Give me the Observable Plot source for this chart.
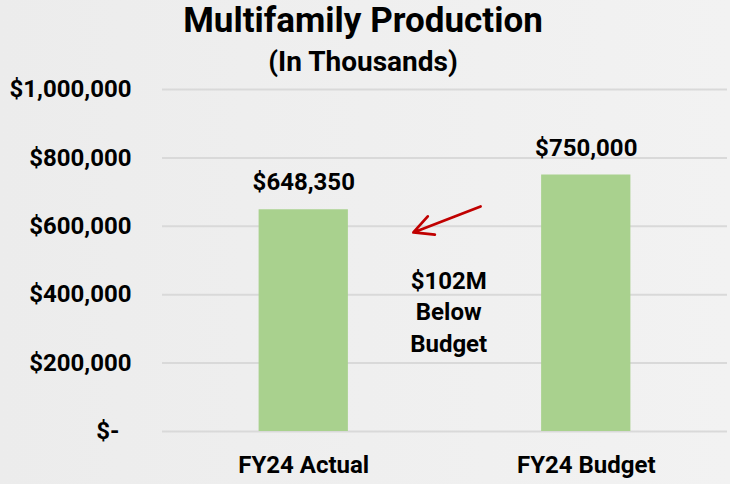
<!DOCTYPE html>
<html>
<head>
<meta charset="utf-8">
<script src="https://cdn.jsdelivr.net/npm/d3@7"></script>
<script src="https://cdn.jsdelivr.net/npm/@observablehq/plot@0.6"></script>
<style>
  html, body { margin: 0; padding: 0; }
  body {
    width: 730px; height: 484px; overflow: hidden;
    background: linear-gradient(to right, #ececec, #f2f2f2);
    font-family: Roboto, "Open Sans", sans-serif;
    font-weight: bold; color: #000;
  }
  #title { text-align: center; font-size: 35px; line-height: 42px; height: 42px; margin-left: -4px; }
  #subtitle { text-align: center; font-size: 28px; line-height: 40px; height: 41px; margin-left: -4px; }
  #chart svg { display: block; overflow: visible; }
</style>
</head>
<body>
<div id="title">Multifamily Production</div>
<div id="subtitle">(In Thousands)</div>
<div id="chart"></div>
<script>
// Data (values in thousands of dollars)
const categories = ["FY24 Actual", "FY24 Budget"];
const values = [648350, 750000];
const yTicks = [0, 200000, 400000, 600000, 800000, 1000000];

// Annotation: positions in data units (x: 0 = first bar, 1 = second bar)
const arrowTail = { x: 0.626, y: 658000 };
const arrowTip = { x: 0.388, y: 582000 };
const noteAt = { x: 0.513, y: 355000 };

const table = categories.map((c, i) => ({ category: c, index: i, value: values[i] }));
const fmt = d3.format(",");
const money = v => "$" + fmt(v);
const gapM = Math.round((values[1] - values[0]) / 1000);
const noteText = `$${gapM}M\nBelow\nBudget`;

const halfBar = 0.158;
const FONT = 'Roboto, "Open Sans", sans-serif';

const plot = Plot.plot({
  width: 730,
  height: 401,
  marginTop: 6,
  marginBottom: 53,
  marginLeft: 162,
  marginRight: 3,
  style: {
    fontFamily: FONT,
    fontSize: "24px",
    fontWeight: "700",
    background: "transparent",
    color: "#000",
    overflow: "visible"
  },
  x: { type: "linear", domain: [-0.5, 1.5] },
  y: { domain: [0, 1000000] },
  marks: [
    Plot.ruleY(yTicks, { stroke: "#d9d9d9", strokeWidth: 2 }),
    Plot.rectY(table, {
      x1: d => d.index - halfBar,
      x2: d => d.index + halfBar,
      y1: 0,
      y2: "value",
      fill: "#a9d18e"
    }),
    Plot.text(table, {
      x: "index",
      y: "value",
      text: d => money(d.value),
      dy: -27,
      fill: "#000",
      fontSize: 24,
      fontWeight: "bold"
    }),
    Plot.axisY({
      ticks: yTicks,
      tickFormat: v => v === 0 ? "$-\u00a0\u00a0" : money(v),
      tickSize: 0,
      tickPadding: 31,
      label: null,
      fontSize: 24,
      fontWeight: "bold"
    }),
    Plot.axisX({
      ticks: categories.map((c, i) => i),
      tickFormat: i => categories[i],
      tickSize: 0,
      tickPadding: 24,
      label: null,
      fontSize: 24,
      fontWeight: "bold"
    }),
    Plot.arrow([{ x1: arrowTail.x, y1: arrowTail.y, x2: arrowTip.x, y2: arrowTip.y }], {
      x1: "x1", y1: "y1", x2: "x2", y2: "y2",
      stroke: "#c00000",
      strokeWidth: 2.7,
      headLength: 12,
      headAngle: 54
    }),
    Plot.text([noteAt], {
      x: "x",
      y: "y",
      text: () => noteText,
      lineHeight: 1.31,
      fill: "#000",
      fontSize: 24,
      fontWeight: "bold"
    })
  ]
});
document.getElementById("chart").appendChild(plot);
</script>
</body>
</html>
